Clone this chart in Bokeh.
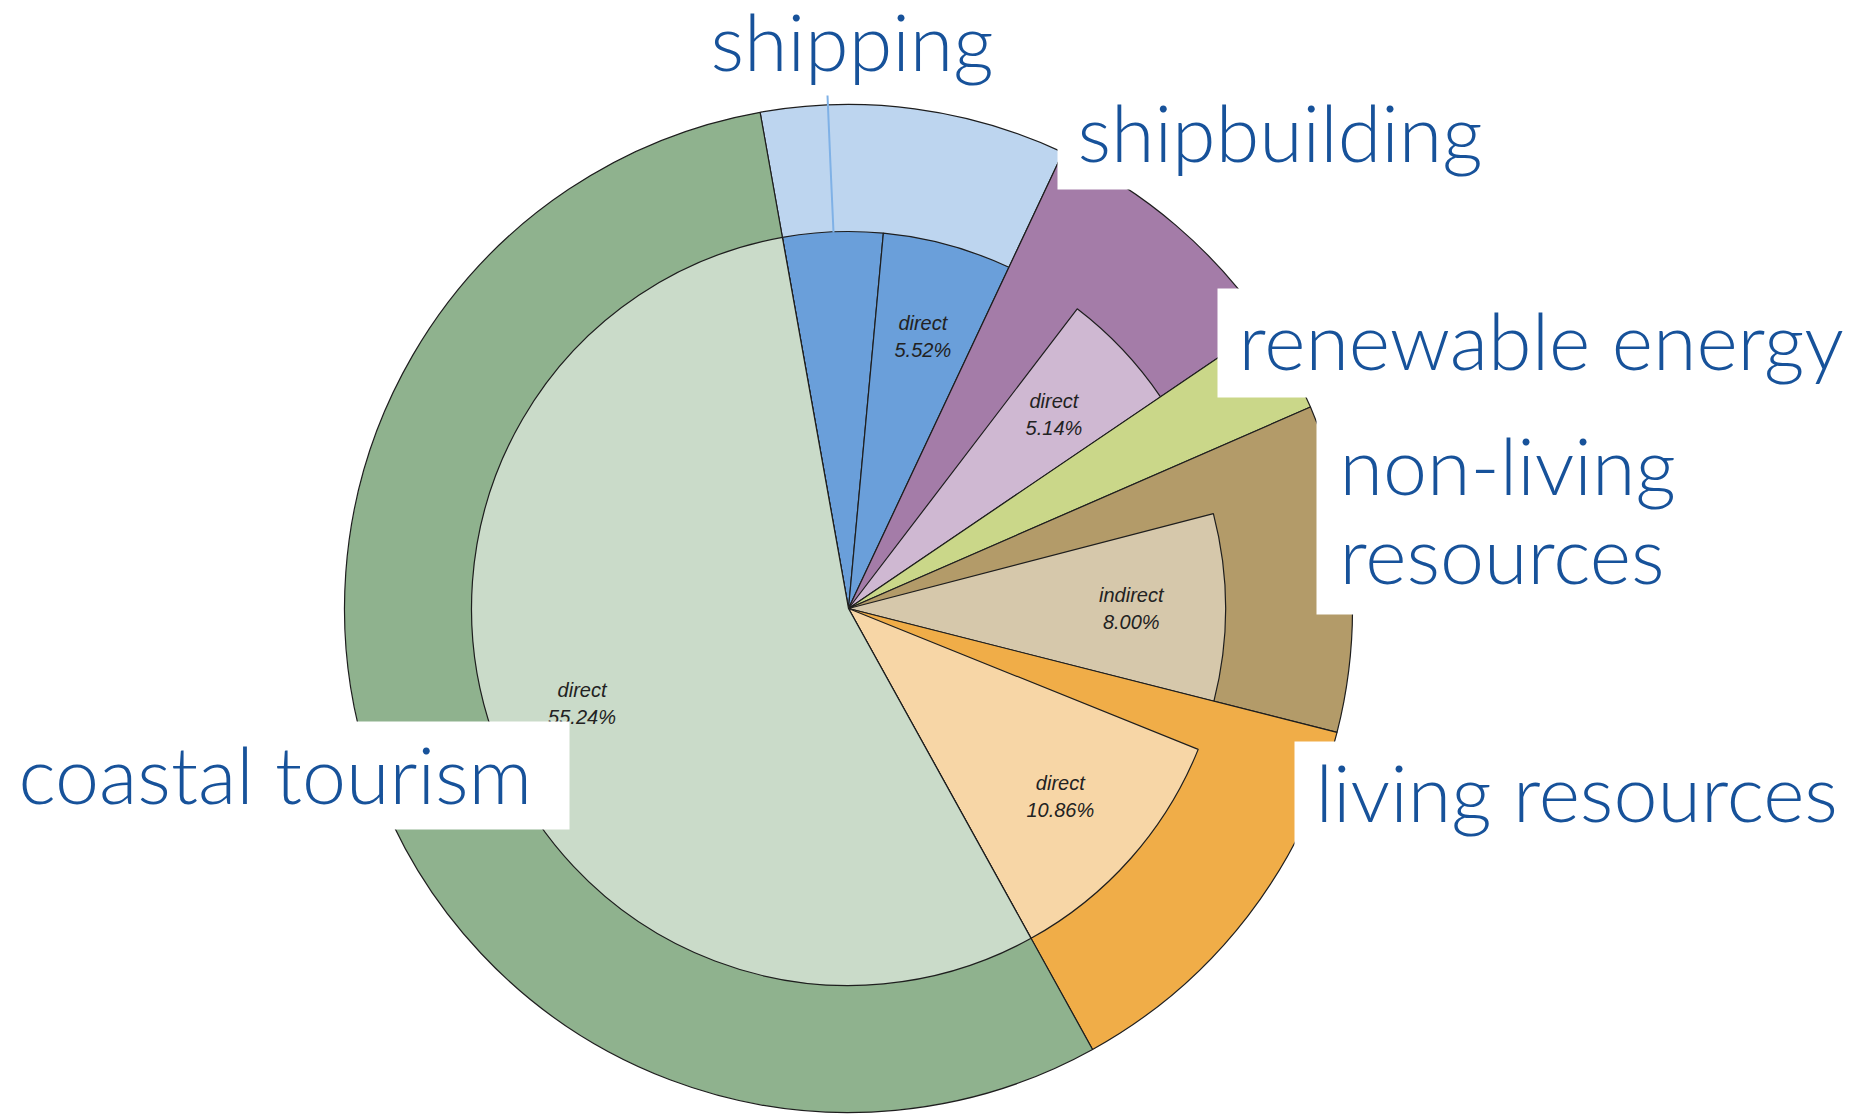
import math
from bokeh.plotting import figure
from bokeh.models import Range1d
from bokeh.embed import file_html
from bokeh.resources import INLINE
from bokeh.core.properties import value

# ---------------- data ----------------
sectors = ["shipping", "shipbuilding", "renewable energy",
           "non-living resources", "living resources", "coastal tourism"]
sector_share = [9.80, 8.52, 2.94, 10.50, 13.00, 55.24]      # % of the whole circle
outer_colors = ["#bdd5ef", "#a47ca8", "#cad789", "#b39b69", "#f0ad48", "#8fb28e"]

# inner segments of each sector, in clockwise order (None colour = not drawn)
inner_shares = [[4.28, 5.52], [3.38, 5.14], [2.94], [2.50, 8.00], [2.14, 10.86], [55.24]]
inner_kinds = [[None, "direct"], [None, "direct"], [None], [None, "indirect"], [None, "direct"], ["direct"]]
inner_colors = [["#6a9fda", "#6a9fda"], [None, "#cfb8d2"], [None], [None, "#d6c8ab"],
                [None, "#f7d6a6"], ["#cadbc9"]]

# big category labels (text lines)
label_lines = [["shipping"], ["shipbuilding"], ["renewable energy"],
               ["non-living", "resources"], ["living resources"], ["coastal tourism"]]

# ---------------- layout ----------------
CX, CY = 848, 608
R_OUT, R_IN = 504, 377
START = -10.1          # clockwise degrees from 12 o'clock where "shipping" starts
BLUE = "#17529a"
FONT = "Lato Light, Lato"
FSIZE = "79px"
TY = -30               # baseline correction

label_pos = {  # x, first baseline
    "shipping": (710, 70), "shipbuilding": (1077, 161), "renewable energy": (1238, 369),
    "non-living resources": (1339, 494), "living resources": (1315, 821),
    "coastal tourism": (18, 803)}
label_box = {  # left, right, top, bottom
    "shipbuilding": (1057, 1520, 95, 189), "renewable energy": (1217, 1866, 288, 397),
    "non-living resources": (1316, 1866, 411, 614), "living resources": (1294, 1866, 741, 846),
    "coastal tourism": (0, 569, 721, 829)}
LINE_GAP = 89

W, H = 1866, 1114
p = figure(width=W, height=H, x_range=Range1d(0, W), y_range=Range1d(H, 0),
           output_backend="svg", toolbar_location=None,
           x_axis_location=None, y_axis_location=None, min_border=0)
p.grid.visible = False
p.outline_line_color = None
p.background_fill_color = "white"


def rad(theta):  # clockwise-from-top degrees -> bokeh angle
    return math.radians(90 - theta)


theta = START
inner_text = []
for s, share, oc, ishares, ikinds, icols in zip(sectors, sector_share, outer_colors,
                                                inner_shares, inner_kinds, inner_colors):
    t1 = theta
    t2 = theta + share * 3.6
    p.wedge(x=CX, y=CY, radius=R_OUT, start_angle=rad(t2), end_angle=rad(t1),
            fill_color=oc, line_color="#1e1e1e", line_width=1.2)
    a = t1
    for sh, kind, col in zip(ishares, ikinds, icols):
        b = a + sh * 3.6
        if col is not None:
            p.wedge(x=CX, y=CY, radius=R_IN, start_angle=rad(b), end_angle=rad(a),
                    fill_color=col, line_color="#1e1e1e", line_width=1.2)
            if kind is not None:
                m = math.radians((a + b) / 2)
                r = 0.75 * R_IN
                inner_text.append((CX + r * math.sin(m), CY - r * math.cos(m), kind, f"{sh:.2f}%"))
        a = b
    theta = t2

for x, y, k, v in inner_text:
    p.text(x=[x, x], y=[y - 13, y + 14], text=[k, v], text_font=value("Liberation Sans"),
           text_font_style="italic", text_font_size="20px", text_color="#222222",
           text_align="center", text_baseline="middle")

# leader line for "shipping"
p.line(x=[827, 830, 833], y=[95, 165, 232], line_color="#7fb1e6", line_width=2)

for s in sectors:
    if s in label_box:
        l, r, t, b = label_box[s]
        p.quad(left=l, right=r, top=t, bottom=b, fill_color="white", line_color=None)

for s, lines in zip(sectors, label_lines):
    x0, y0 = label_pos[s]
    p.text(x=[x0] * len(lines), y=[y0 + TY + i * LINE_GAP for i in range(len(lines))], text=lines,
           text_font=value(FONT), text_font_size=FSIZE, text_color=BLUE,
           text_align="left", text_baseline="alphabetic")

open("out.html", "w").write(file_html(p, INLINE))
